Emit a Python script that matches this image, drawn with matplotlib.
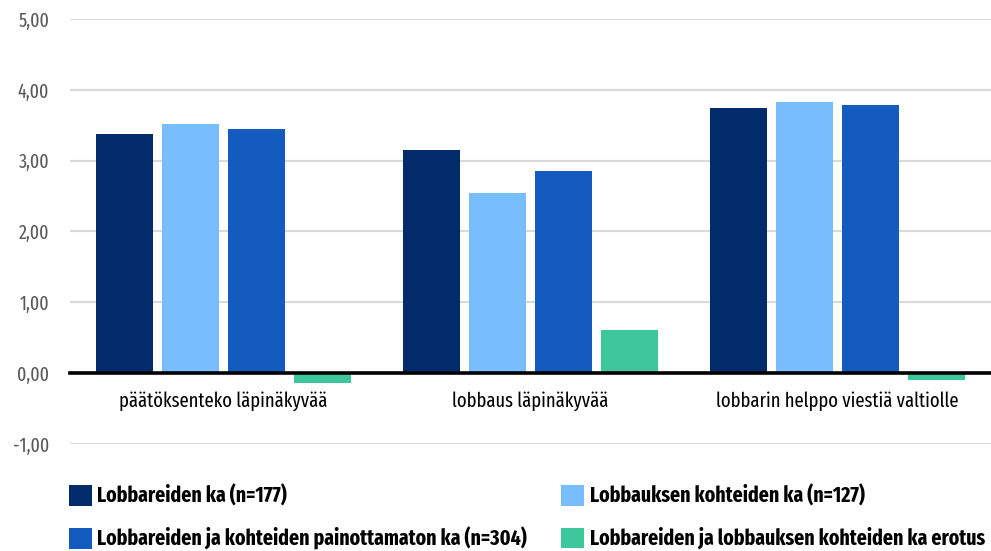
import numpy as np
import matplotlib
matplotlib.use("Agg")
import matplotlib.pyplot as plt
from matplotlib.ticker import FuncFormatter

categories = ["päätöksenteko läpinäkyvää", "lobbaus läpinäkyvää", "lobbarin helppo viestiä valtiolle"]
series_names = [
    "Lobbareiden ka (n=177)",
    "Lobbauksen kohteiden ka (n=127)",
    "Lobbareiden ja kohteiden painottamaton ka (n=304)",
    "Lobbareiden ja lobbauksen kohteiden ka erotus",
]
lobbarit = [3.38, 3.15, 3.74]
kohteet = [3.52, 2.54, 3.83]
painottamaton = [3.45, 2.85, 3.79]
erotus = [-0.14, 0.61, -0.10]
colors = ["#022b6c", "#78bdfd", "#135bbf", "#3dc79a"]

plt.rcParams["font.family"] = ["Fira Sans Extra Condensed", "IBM Plex Sans Condensed", "DejaVu Sans"]

fig = plt.figure(figsize=(9.91, 5.51), dpi=100)
ax = fig.add_axes([70 / 991, 1 - 444 / 551, 1 - 70 / 991, (444 - 19) / 551])

x = np.arange(len(categories))
step = 0.215
width = 0.186
bars = []
for i, vals in enumerate([lobbarit, kohteet, painottamaton, erotus]):
    b = ax.bar(x + (i - 1.5) * step, vals, width, color=colors[i], zorder=2)
    bars.append(b)

ax.set_ylim(-1, 5)
ax.set_xlim(-0.5, 2.5)
ax.set_yticks(np.arange(-1, 6, 1))
ax.yaxis.set_major_formatter(FuncFormatter(lambda v, p: f"{v:.2f}".replace(".", ",")))
ax.grid(axis="y", color="#d9d9d9", linewidth=1.5, zorder=0)
ax.set_axisbelow(True)

for s in ["top", "right", "left"]:
    ax.spines[s].set_visible(False)
ax.spines["bottom"].set_position(("data", 0))
ax.spines["bottom"].set_linewidth(2.6)
ax.spines["bottom"].set_color("black")
ax.spines["bottom"].set_zorder(3)

ax.set_xticks(x)
ax.set_xticklabels(categories)
ax.tick_params(axis="x", length=0, pad=13, labelsize=14.5, labelcolor="black")
ax.tick_params(axis="y", length=0, pad=15, labelsize=14, labelcolor="#595959")

# rivit vaakasuunnassa: järjestetään kahteen sarakkeeseen
order = [0, 2, 1, 3]
leg = fig.legend([bars[i] for i in order], [series_names[i] for i in order],
                 loc="upper left", bbox_to_anchor=(69 / 991, 1 - 485 / 551),
                 ncol=2, frameon=False, borderpad=0, borderaxespad=0,
                 handlelength=1.07, handleheight=1.07, handletextpad=0.24,
                 labelspacing=0.92, columnspacing=1.6,
                 prop={"size": 15.5, "weight": "bold"})

fig.savefig("out.png", dpi=100)
